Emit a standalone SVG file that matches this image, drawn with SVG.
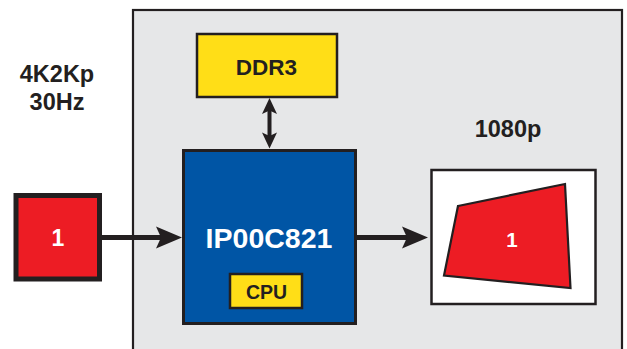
<svg xmlns="http://www.w3.org/2000/svg" width="627" height="349" viewBox="0 0 627 349">
<style>
.lbl{font-family:"Liberation Sans",Arial,sans-serif;font-weight:bold;text-anchor:middle;fill:#231F20}
.wht{fill:#FFFFFF}
.ln{stroke:#231F20;fill:none}
</style>
<rect width="627" height="349" fill="#FFFFFF"/>
<g id="board">
<rect x="133" y="10" width="489" height="360" fill="#E6E7E8" stroke="#231F20" stroke-width="2.2"/>
</g>
<g id="label-input">
<text class="lbl" x="57" y="82" font-size="23.5">4K2Kp</text>
<text class="lbl" x="57" y="110" font-size="23.5">30Hz</text>
</g>
<g id="label-output">
<text class="lbl" x="508" y="137" font-size="23.5">1080p</text>
</g>
<g id="ddr3">
<rect x="197" y="34" width="140" height="63" fill="#FFDE17" stroke="#231F20" stroke-width="2.5"/>
<text class="lbl" x="266.5" y="75" font-size="22.5">DDR3</text>
</g>
<g id="soc">
<rect x="183.5" y="150.5" width="172" height="173" fill="#0055A5" stroke="#231F20" stroke-width="3"/>
<text class="lbl wht" x="269" y="247.5" font-size="28.5">IP00C821</text>
</g>
<g id="cpu">
<rect x="230" y="274" width="72" height="34" fill="#FFDE17" stroke="#231F20" stroke-width="2.5"/>
<text class="lbl" x="266.5" y="298.5" font-size="19.5">CPU</text>
</g>
<g id="source">
<rect x="16" y="195.5" width="83.5" height="83.5" fill="#ED1C24" stroke="#231F20" stroke-width="5"/>
<text class="lbl wht" x="58" y="246" font-size="23">1</text>
</g>
<g id="display">
<rect x="431.5" y="170" width="164" height="134" fill="#FFFFFF" stroke="#231F20" stroke-width="2.5"/>
<polygon points="458,206 565,184 570.5,288 444,275.5" fill="#ED1C24" stroke="#231F20" stroke-width="2.2" stroke-linejoin="miter"/>
<text class="lbl wht" x="512" y="246.5" font-size="20.5">1</text>
</g>
<g id="connectors">
<line class="ln" x1="101" y1="237.5" x2="162" y2="237.5" stroke-width="5"/>
<path d="M182,237.5 L156,226.5 L161,237.5 L156,248.5 Z" fill="#231F20"/>
<line class="ln" x1="356" y1="237.5" x2="408" y2="237.5" stroke-width="5"/>
<path d="M428,237.5 L402,226.5 L407,237.5 L402,248.5 Z" fill="#231F20"/>
<line class="ln" x1="269.5" y1="110" x2="269.5" y2="136" stroke-width="4"/>
<path d="M269.5,98 L262,114 L269.5,110.5 L277,114 Z" fill="#231F20"/>
<path d="M269.5,148.5 L262,132.5 L269.5,136 L277,132.5 Z" fill="#231F20"/>
</g>
</svg>
